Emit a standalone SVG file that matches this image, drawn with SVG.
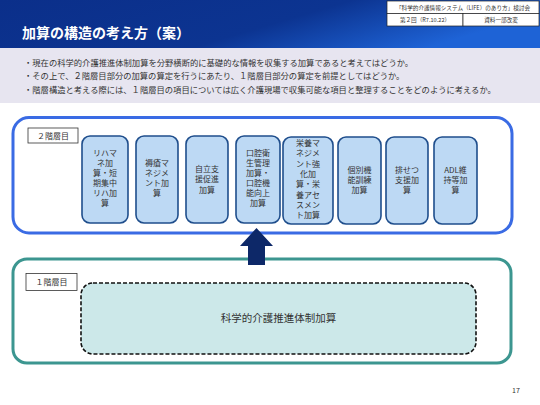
<svg xmlns="http://www.w3.org/2000/svg" width="540" height="405" viewBox="0 0 540 405">
<defs>
<linearGradient id="hdr" x1="0" y1="0" x2="1" y2="0.3">
<stop offset="0" stop-color="#0B2F8A"/>
<stop offset="0.6" stop-color="#0C3491"/>
<stop offset="1" stop-color="#1E63D6"/>
</linearGradient>
<style>
text{font-family:"Noto Sans CJK JP","Noto Sans",sans-serif;fill:#333}
.b{font-size:8.3px}
.item{fill:#BDD9F4;stroke:#1F4E8C;stroke-width:1.6}
.it{font-size:8px;text-anchor:middle}
.lbl{fill:#fff;stroke:#333;stroke-width:0.8}
.hb{fill:#fff;stroke:#222;stroke-width:0.7}
.ht{font-size:5.6px;text-anchor:middle}
</style>
</defs>
<rect x="0" y="0" width="540" height="405" fill="#fff"/>
<rect x="0" y="48" width="540" height="55" fill="#E7E5F0"/>
<rect x="0" y="0" width="540" height="48" fill="url(#hdr)"/>
<text x="22" y="38" style="font-size:14px;font-weight:bold;fill:#fff">加算の構造の考え方（案）</text>
<g id="header-box">
<rect class="hb" x="387" y="1" width="152" height="12.5"/>
<rect class="hb" x="387" y="13.5" width="76" height="12.5"/>
<rect class="hb" x="463" y="13.5" width="76" height="12.5"/>
<text class="ht" x="463" y="9.5">「科学的介護情報システム（LIFE）のあり方」検討会</text>
<text class="ht" x="425" y="22">第２回（R7.10.22）</text>
<text class="ht" x="501" y="22">資料一部改変</text>
</g>
<g id="bullets">
<text class="b" x="24" y="65.5">・現在の科学的介護推進体制加算を分野横断的に基礎的な情報を収集する加算であると考えてはどうか。</text>
<text class="b" x="24" y="79">・その上で、２階層目部分の加算の算定を行うにあたり、１階層目部分の算定を前提としてはどうか。</text>
<text class="b" x="24" y="93">・階層構造と考える際には、１階層目の項目については広く介護現場で収集可能な項目と整理することをどのように考えるか。</text>
</g>
<g id="tier2">
<rect x="13" y="117.5" width="499" height="115.5" rx="16" fill="#fff" stroke="#3A6BE4" stroke-width="3"/>
<rect class="lbl" x="28" y="128" width="50" height="15"/>
<text x="53" y="138.8" style="font-size:8px;text-anchor:middle">２階層目</text>
</g>
<g id="item1">
<rect class="item" x="82" y="136" width="46" height="87" rx="8"/>
<text class="it" x="105"><tspan x="105" y="156">リハマ</tspan><tspan x="105" y="166">ネ加</tspan><tspan x="105" y="176">算・短</tspan><tspan x="105" y="186">期集中</tspan><tspan x="105" y="196">リハ加</tspan><tspan x="105" y="206">算</tspan></text>
</g>
<g id="item2">
<rect class="item" x="136" y="136" width="42" height="87" rx="8"/>
<text class="it" x="157"><tspan x="157" y="166">褥瘡マ</tspan><tspan x="157" y="176">ネジメ</tspan><tspan x="157" y="186">ント加</tspan><tspan x="157" y="196">算</tspan></text>
</g>
<g id="item3">
<rect class="item" x="186" y="136" width="42" height="87" rx="8"/>
<text class="it" x="207"><tspan x="207" y="172">自立支</tspan><tspan x="207" y="182">援促進</tspan><tspan x="207" y="193">加算</tspan></text>
</g>
<g id="item4">
<rect class="item" x="236" y="136" width="44" height="87" rx="8"/>
<text class="it" x="258"><tspan x="258" y="156">口腔衛</tspan><tspan x="258" y="166">生管理</tspan><tspan x="258" y="176">加算・</tspan><tspan x="258" y="186">口腔機</tspan><tspan x="258" y="196">能向上</tspan><tspan x="258" y="206">加算</tspan></text>
</g>
<g id="item5">
<rect class="item" x="283" y="137" width="50" height="87" rx="8"/>
<text class="it" x="308"><tspan x="308" y="146">栄養マ</tspan><tspan x="308" y="156">ネジメ</tspan><tspan x="308" y="166.5">ント強</tspan><tspan x="308" y="177">化加</tspan><tspan x="308" y="187">算・栄</tspan><tspan x="308" y="197.5">養アセ</tspan><tspan x="308" y="208">スメン</tspan><tspan x="308" y="218">ト加算</tspan></text>
</g>
<g id="item6">
<rect class="item" x="338" y="137" width="43" height="87" rx="8"/>
<text class="it" x="359.5"><tspan x="359.5" y="173">個別機</tspan><tspan x="359.5" y="183">能訓練</tspan><tspan x="359.5" y="193">加算</tspan></text>
</g>
<g id="item7">
<rect class="item" x="386" y="137" width="42" height="87" rx="8"/>
<text class="it" x="407"><tspan x="407" y="173">排せつ</tspan><tspan x="407" y="183">支援加</tspan><tspan x="407" y="193">算</tspan></text>
</g>
<g id="item8">
<rect class="item" x="434" y="137" width="43" height="87" rx="8"/>
<text class="it" x="455.5"><tspan x="455.5" y="173">ADL維</tspan><tspan x="455.5" y="183">持等加</tspan><tspan x="455.5" y="193">算</tspan></text>
</g>
<g id="tier1">
<rect x="13" y="259" width="498" height="104" rx="14" fill="#fff" stroke="#3C9690" stroke-width="3"/>
<rect class="lbl" x="26" y="273.5" width="51" height="17"/>
<text x="51.5" y="285" style="font-size:8px;text-anchor:middle">１階層目</text>
</g>
<g id="base">
<rect x="81" y="283" width="395" height="71" rx="12" fill="#CCE8E9" stroke="#111" stroke-width="1.6" stroke-dasharray="4,2"/>
<text x="278.5" y="322" style="font-size:10.5px;text-anchor:middle">科学的介護推進体制加算</text>
</g>
<g id="connectors">
<path d="M256.5 228 L273 246 L265 246 L265 265 L248 265 L248 246 L240 246 Z" fill="#0D2868"/>
</g>
<text x="516" y="393" style="font-size:7px;text-anchor:middle">17</text>
</svg>
